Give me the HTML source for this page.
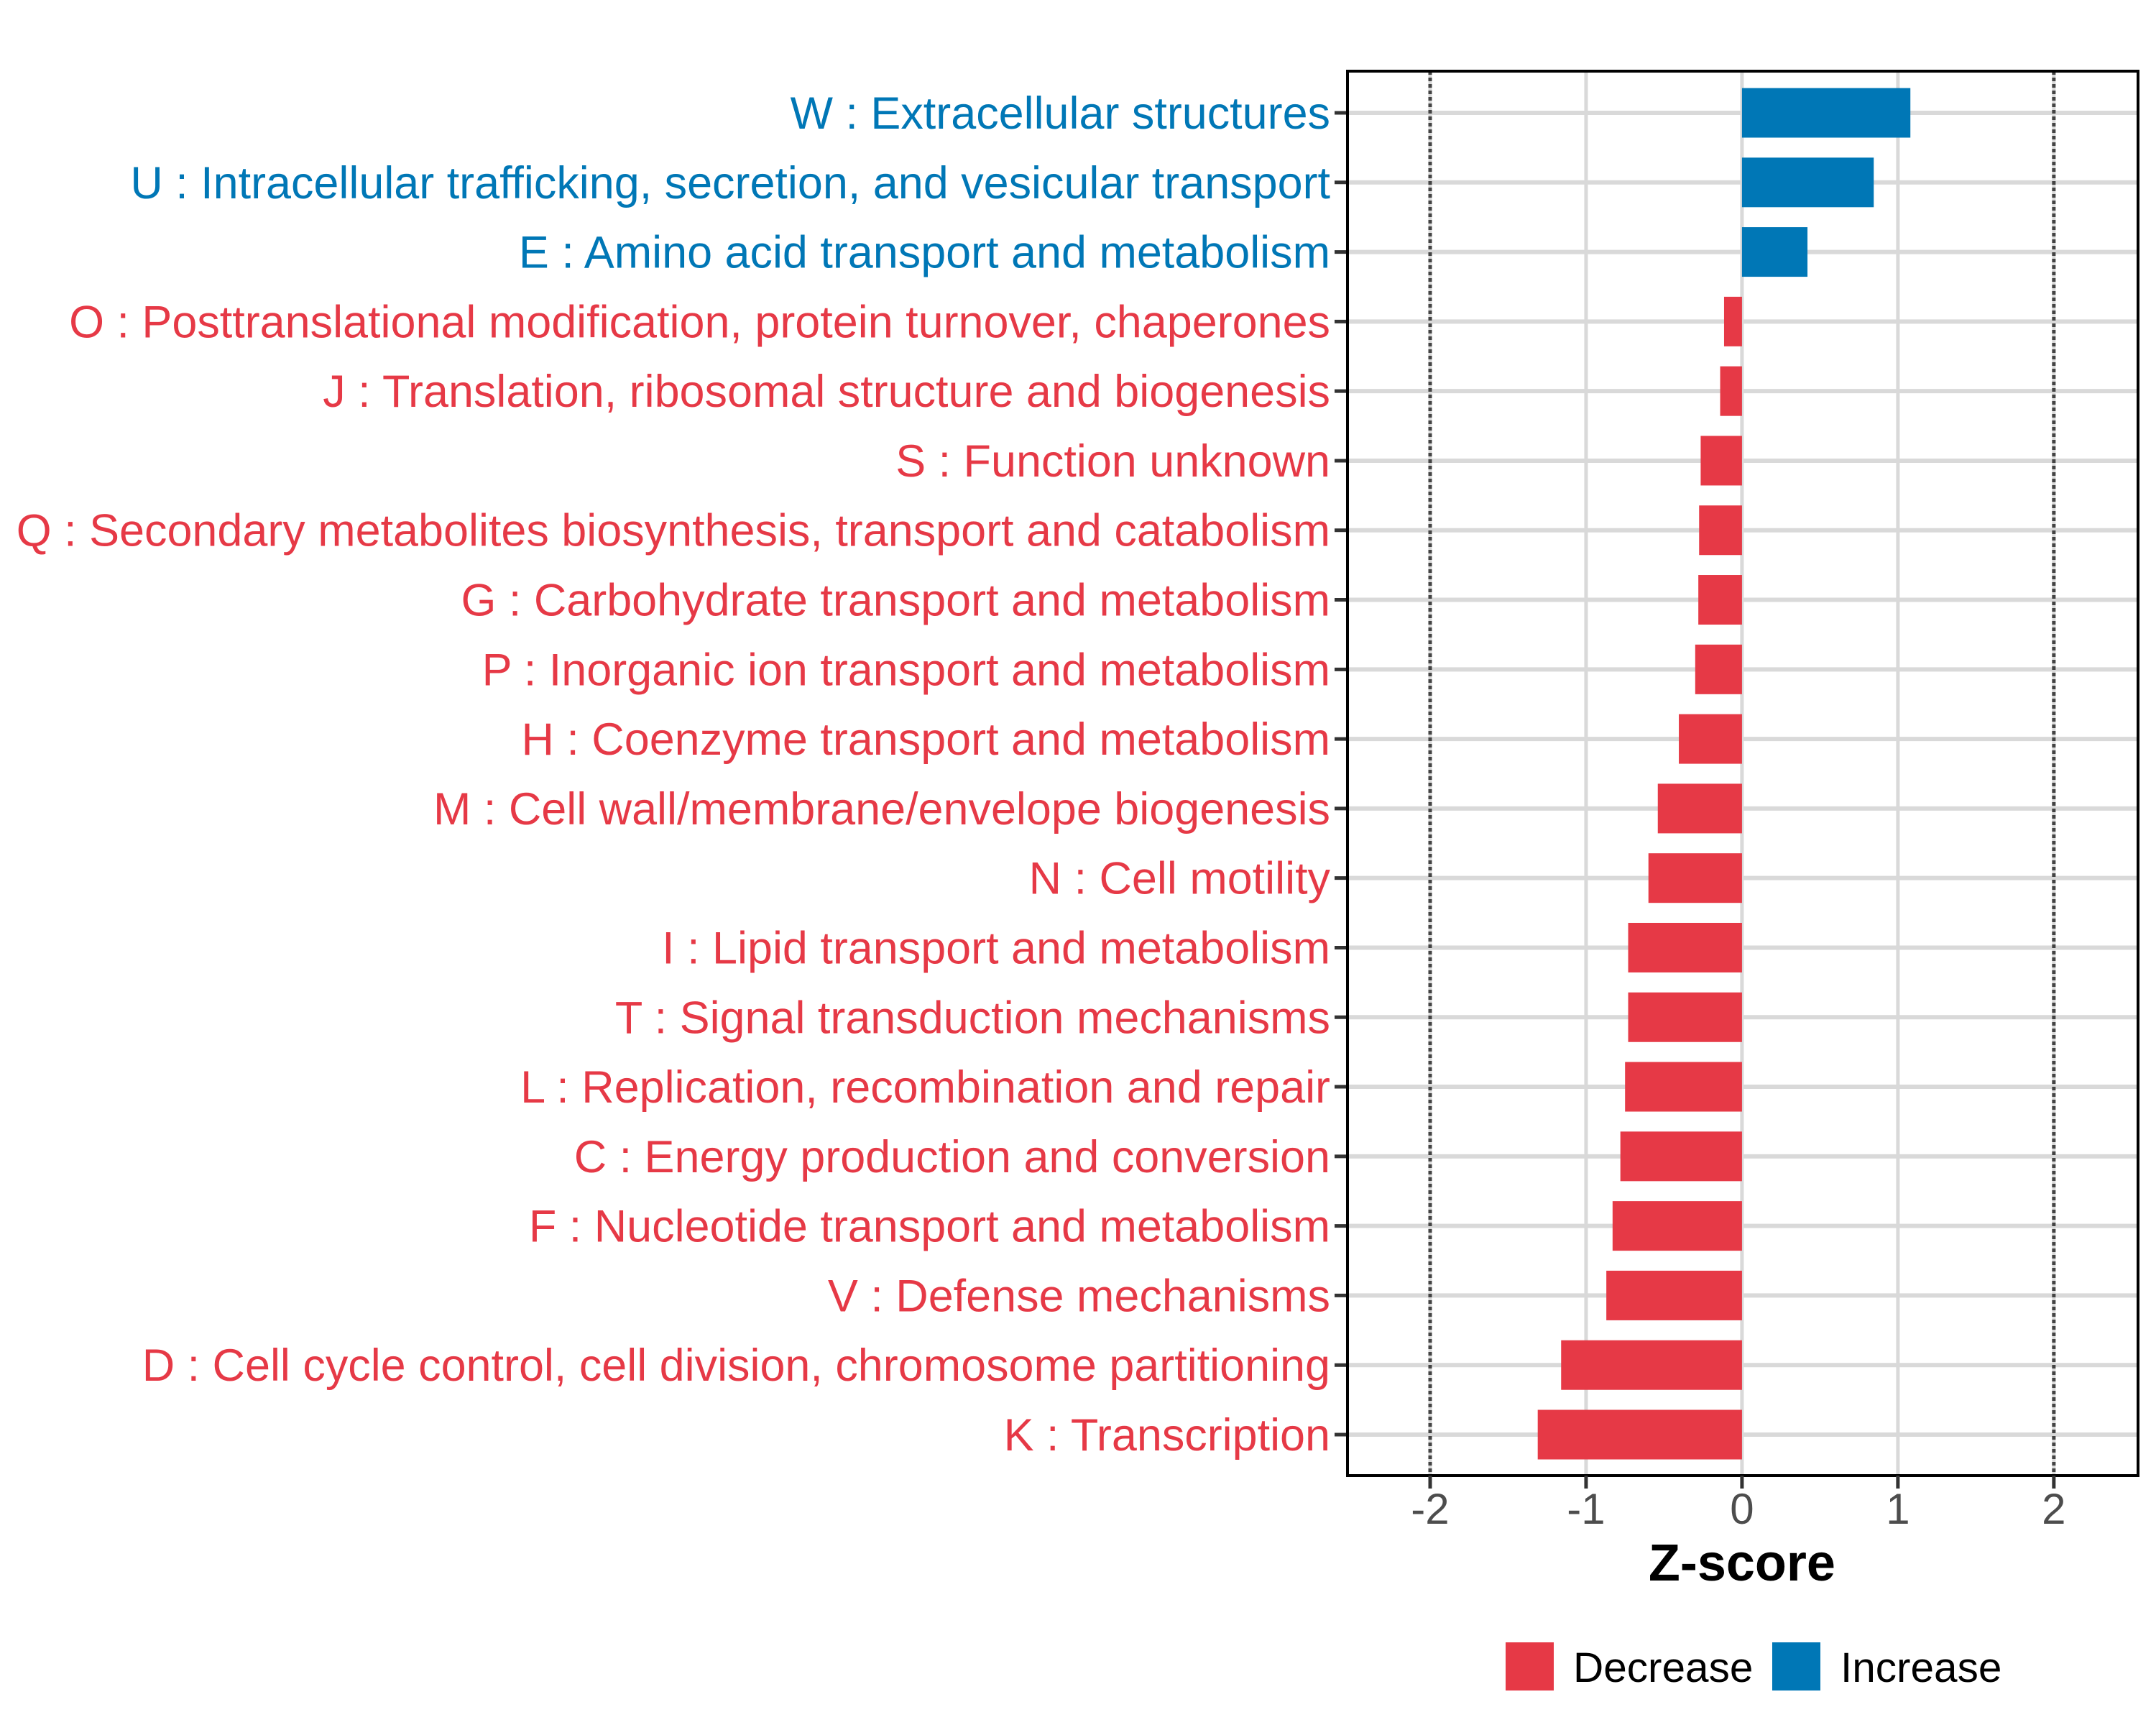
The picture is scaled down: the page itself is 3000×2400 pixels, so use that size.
<!DOCTYPE html>
<html><head><meta charset="utf-8"><style>
html,body{margin:0;padding:0;background:#fff;}
svg{display:block;font-family:"Liberation Sans",Arial,sans-serif;}
</style></head><body>
<svg id="chart" width="3000" height="2400" viewBox="0 0 3000 2400" xmlns="http://www.w3.org/2000/svg">
<rect width="3000" height="2400" fill="#fff"/>
<g id="grid"></g>
<g id="bars"></g>
<g id="refs"></g>
<g id="ylabels"></g>
<g id="xaxis"></g>
<text id="xtitle" x="2426" y="2199" font-size="72" font-weight="bold" text-anchor="middle" fill="#000">Z-score</text>
<g>
<rect x="2095" y="2285" width="67" height="67" fill="#E63946"/>
<text x="2189" y="2340" font-size="58.5" fill="#000">Decrease</text>
<rect x="2466" y="2285" width="67" height="67" fill="#0077B6"/>
<text x="2561" y="2340" font-size="58.5" fill="#000">Increase</text>
</g>
</svg>
<script>
const categories = [
"W : Extracellular structures",
"U : Intracellular trafficking, secretion, and vesicular transport",
"E : Amino acid transport and metabolism",
"O : Posttranslational modification, protein turnover, chaperones",
"J : Translation, ribosomal structure and biogenesis",
"S : Function unknown",
"Q : Secondary metabolites biosynthesis, transport and catabolism",
"G : Carbohydrate transport and metabolism",
"P : Inorganic ion transport and metabolism",
"H : Coenzyme transport and metabolism",
"M : Cell wall/membrane/envelope biogenesis",
"N : Cell motility",
"I : Lipid transport and metabolism",
"T : Signal transduction mechanisms",
"L : Replication, recombination and repair",
"C : Energy production and conversion",
"F : Nucleotide transport and metabolism",
"V : Defense mechanisms",
"D : Cell cycle control, cell division, chromosome partitioning",
"K : Transcription"
];
const zscores = [1.08, 0.845, 0.42, -0.115, -0.14, -0.265, -0.275, -0.28, -0.30, -0.405, -0.54, -0.60, -0.73, -0.73, -0.75, -0.78, -0.83, -0.87, -1.16, -1.31];
const xTicks = [-2, -1, 0, 1, 2];
const xTickLabels = ["-2", "-1", "0", "1", "2"];
const refLines = [-2, 2];

const NS = "http://www.w3.org/2000/svg";
const L = 1875, R = 2975, T = 99, B = 2053;
const xMin = -2.53, xMax = 2.54;
const xs = v => L + (v - xMin) / (xMax - xMin) * (R - L);
const rowTop = 157, rowBot = 1996;
const ys = i => rowTop + i * (rowBot - rowTop) / (categories.length - 1);
const barH = 69;
const RED = "#E63946", BLUE = "#0077B6";
function mk(tag, attrs, parent) {
  const e = document.createElementNS(NS, tag);
  for (const k in attrs) e.setAttribute(k, attrs[k]);
  parent.appendChild(e);
  return e;
}
const grid = document.getElementById("grid");
const bars = document.getElementById("bars");
const refs = document.getElementById("refs");
const ylabels = document.getElementById("ylabels");
const xaxis = document.getElementById("xaxis");
document.getElementById("xtitle").setAttribute("x", xs(0));

xTicks.forEach(t => {
  const g = mk("line", {x1: xs(t), x2: xs(t), y1: T, y2: B, stroke: "#d9d9d9", "stroke-width": 5}, grid);
  
  
});
categories.forEach((c, i) => {
  const g = mk("line", {x1: L, x2: R, y1: ys(i), y2: ys(i), stroke: "#d9d9d9", "stroke-width": 6}, grid);
  
  
});
categories.forEach((c, i) => {
  const v = zscores[i];
  const x0 = xs(Math.min(0, v)), x1 = xs(Math.max(0, v));
  const col = v >= 0 ? BLUE : RED;
  const b = mk("rect", {x: x0, y: ys(i) - barH / 2, width: x1 - x0, height: barH, fill: col}, bars);
  
  
  const tk = mk("line", {x1: L - 18, x2: L, y1: ys(i), y2: ys(i), stroke: "#333", "stroke-width": 5}, ylabels);
  
  
  const t = mk("text", {x: L - 24, y: ys(i) + 22, "font-size": 62.9, "text-anchor": "end", fill: col}, ylabels);
  t.textContent = c;
  
  
});
refLines.forEach(r => {
  const l = mk("line", {x1: xs(r), x2: xs(r), y1: T, y2: B, stroke: "#444", "stroke-width": 5, "stroke-dasharray": "5 4"}, refs);
  
  
});
const frame = mk("rect", {x: L, y: T, width: R - L, height: B - T, fill: "none", stroke: "#000", "stroke-width": 4}, xaxis);


xTicks.forEach((t, i) => {
  const tk = mk("line", {x1: xs(t), x2: xs(t), y1: B, y2: B + 18, stroke: "#333", "stroke-width": 5}, xaxis);
  
  
  const lb = mk("text", {x: xs(t), y: B + 67, "font-size": 60, "text-anchor": "middle", fill: "#4d4d4d"}, xaxis);
  lb.textContent = xTickLabels[i];
  
  
});
</script>
</body></html>
